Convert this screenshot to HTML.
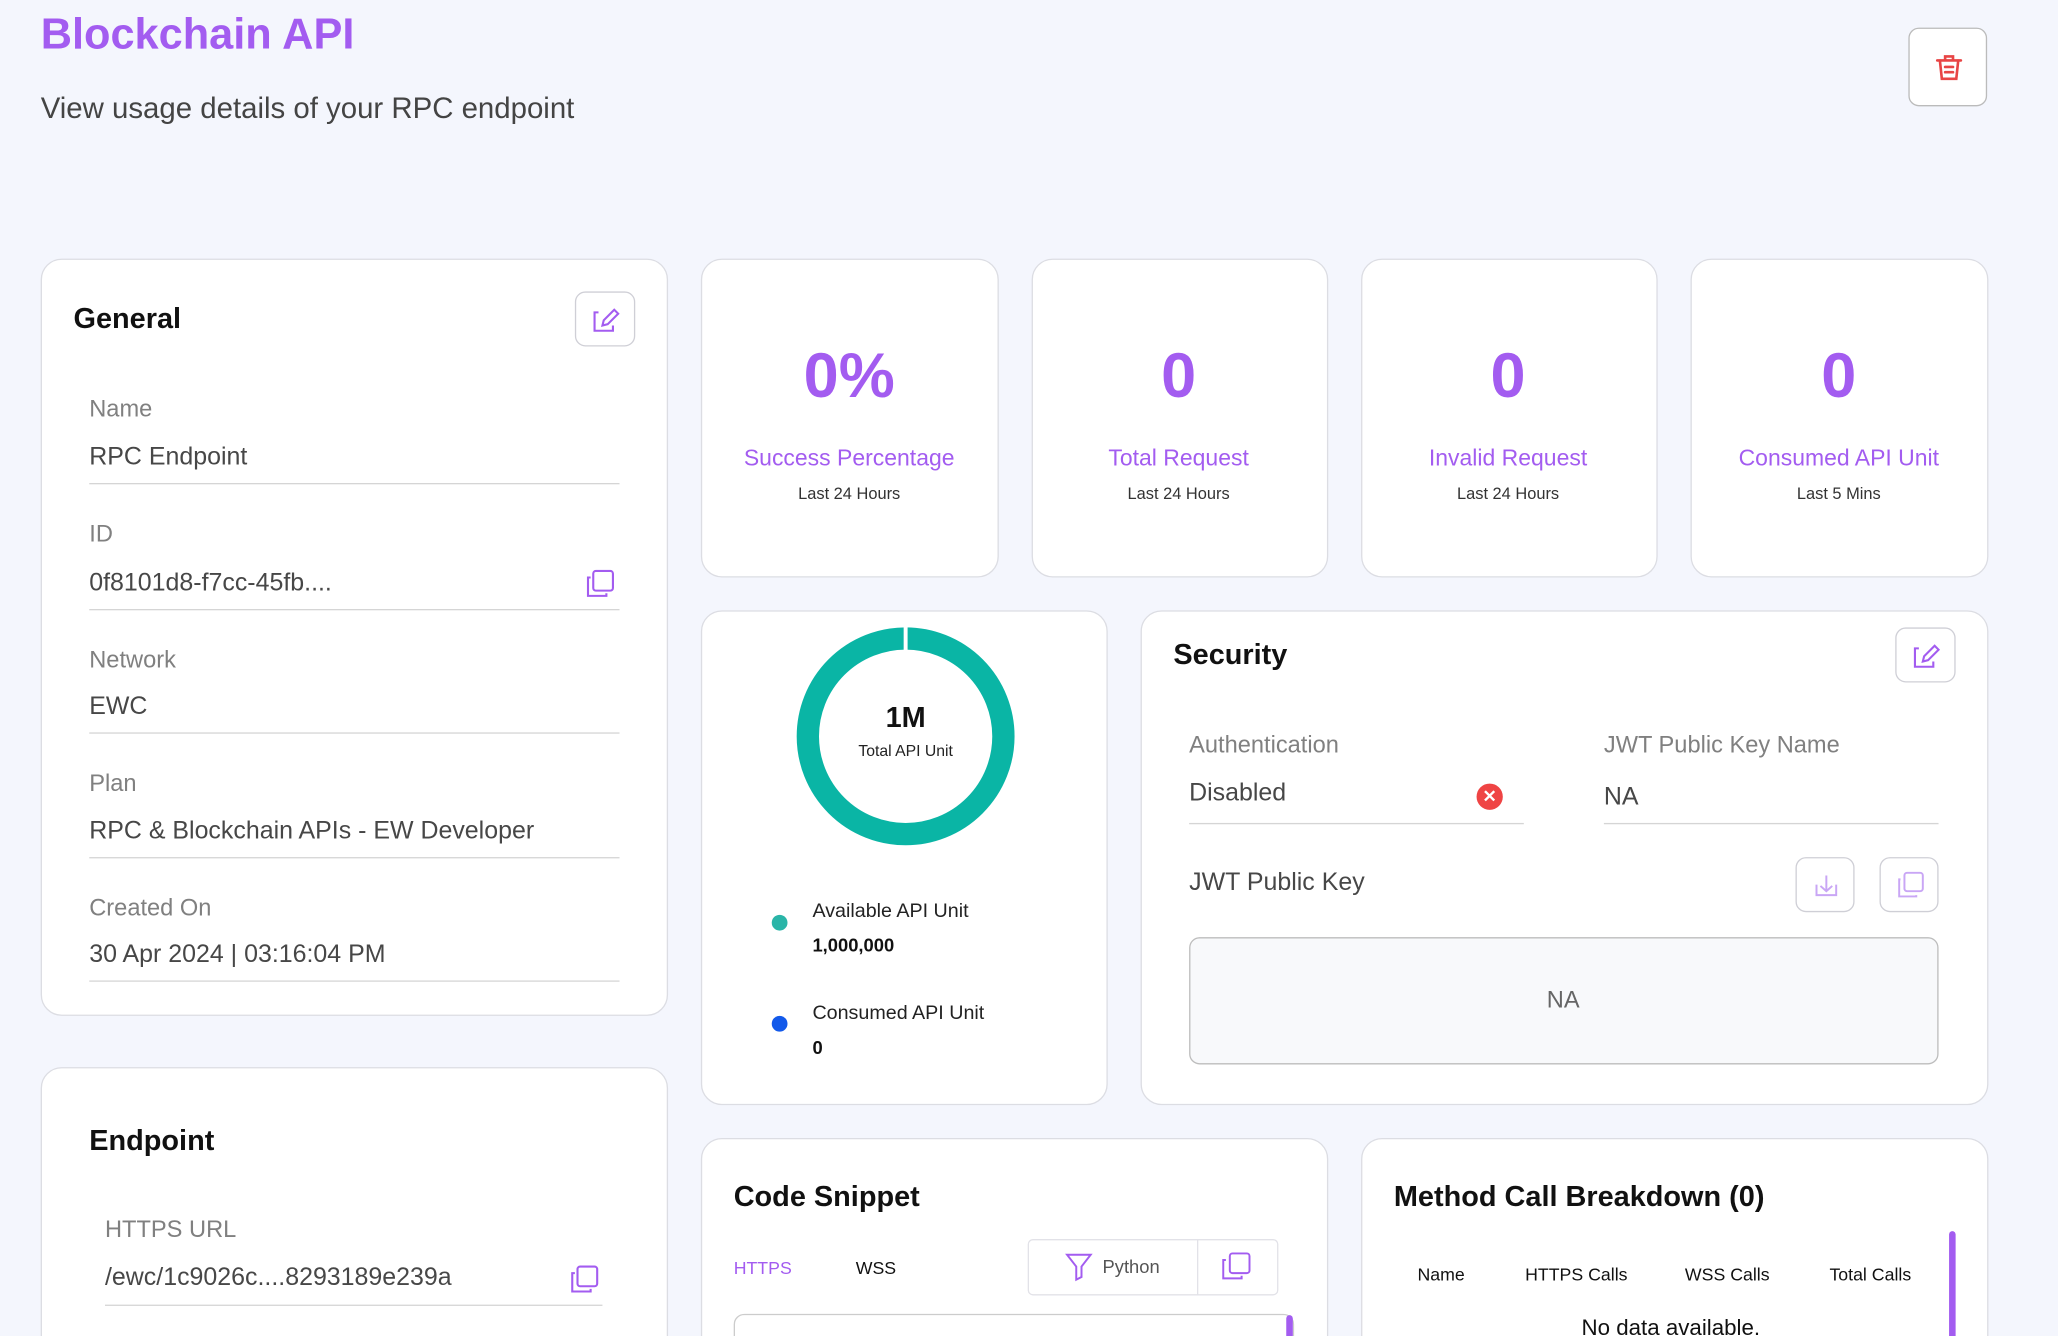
<!DOCTYPE html>
<html><head><meta charset="utf-8"><style>
*{margin:0;padding:0;box-sizing:border-box}
html,body{width:2058px;height:1336px;overflow:hidden;background:#f4f6fd}
#w{width:1568px;height:1018px;overflow:hidden;transform:scale(1.3125);transform-origin:0 0;position:relative;font-family:"Liberation Sans",Arial,sans-serif;color:#333}
.a{position:absolute}
.card{position:absolute;background:#fff;border:1px solid #dcdde3;border-radius:16px}
.t{position:absolute;white-space:nowrap;transform:translateY(-50%)}
.c{transform:translate(-50%,-50%)}
.lbl{font-size:18px;color:#808080}
.val{font-size:19px;color:#474747}
.ln{position:absolute;height:1px;background:#d5d5d5}
.btn{position:absolute;border:1px solid #cfcfd6;border-radius:8px;background:#fff}
.h{font-weight:bold;font-size:22px;color:#111}
.num{font-size:48px;font-weight:bold;color:#a35cf0}
.pl{font-size:17.5px;color:#a35cf0}
.sub{font-size:12.5px;color:#333}
</style></head><body><div id="w">
<div class="t" style="left:31px;top:26px;font-size:33px;font-weight:bold;color:#a35cf0">Blockchain API</div>
<div class="t" style="left:31px;top:83px;font-size:22.4px;color:#444">View usage details of your RPC endpoint</div>
<div class="btn" style="left:1454px;top:21px;width:60px;height:60px;border-color:#bbb">
<svg width="60" height="60" viewBox="0 0 60 60"><g fill="none" stroke="#e84545" stroke-width="2" stroke-linecap="round"><path d="M21 24h18M27 24v-3h6v3M23 24l1.5 14h11L37 24M27 29h6M27 33h6"/></g></svg></div>

<div class="card" style="left:31px;top:197px;width:478px;height:577px"></div>
<div class="t h" style="left:56px;top:243px">General</div>
<div class="btn" style="left:438px;top:222px;width:46px;height:42px"><svg width="46" height="42"><g fill="none" stroke="#a35cf0" stroke-width="1.6"><path d="M17 15h-3v14h14v-4"/><path d="M20 25l1-4 8-8 3 3-8 8z"/></g></svg></div>
<div class="t lbl" style="left:68px;top:312px">Name</div><div class="t val" style="left:68px;top:349px">RPC Endpoint</div><div class="ln" style="left:68px;top:368px;width:404px"></div>
<div class="t lbl" style="left:68px;top:407px">ID</div><div class="t val" style="left:68px;top:445px">0f8101d8-f7cc-45fb....</div><div class="ln" style="left:68px;top:464px;width:404px"></div>
<svg class="a" style="left:446px;top:434px" width="24" height="22"><g fill="none" stroke="#a35cf0" stroke-width="1.6"><rect x="6" y="1" width="15" height="15" rx="2"/><path d="M4 6H2v14h14v-2"/></g></svg>
<div class="t lbl" style="left:68px;top:503px">Network</div><div class="t val" style="left:68px;top:539px">EWC</div><div class="ln" style="left:68px;top:558px;width:404px"></div>
<div class="t lbl" style="left:68px;top:597px">Plan</div><div class="t val" style="left:68px;top:634px">RPC &amp; Blockchain APIs - EW Developer</div><div class="ln" style="left:68px;top:653px;width:404px"></div>
<div class="t lbl" style="left:68px;top:692px">Created On</div><div class="t val" style="left:68px;top:728px">30 Apr 2024 | 03:16:04 PM</div><div class="ln" style="left:68px;top:747px;width:404px"></div>

<div class="card" style="left:31px;top:813px;width:478px;height:225px"></div>
<div class="t h" style="left:68px;top:869px">Endpoint</div>
<div class="t lbl" style="left:80px;top:937px">HTTPS URL</div><div class="t val" style="left:80px;top:974px">/ewc/1c9026c....8293189e239a</div><div class="ln" style="left:80px;top:994px;width:379px"></div>
<svg class="a" style="left:434px;top:964px" width="24" height="22"><g fill="none" stroke="#a35cf0" stroke-width="1.6"><rect x="6" y="1" width="15" height="15" rx="2"/><path d="M4 6H2v14h14v-2"/></g></svg>

<div class="card" style="left:534px;top:197px;width:227px;height:243px"></div>
<div class="card" style="left:786px;top:197px;width:226px;height:243px"></div>
<div class="card" style="left:1037px;top:197px;width:226px;height:243px"></div>
<div class="card" style="left:1288px;top:197px;width:227px;height:243px"></div>
<div class="t c num" style="left:647px;top:287px">0%</div><div class="t c pl" style="left:647px;top:349px">Success Percentage</div><div class="t c sub" style="left:647px;top:376px">Last 24 Hours</div>
<div class="t c num" style="left:898px;top:287px">0</div><div class="t c pl" style="left:898px;top:349px">Total Request</div><div class="t c sub" style="left:898px;top:376px">Last 24 Hours</div>
<div class="t c num" style="left:1149px;top:287px">0</div><div class="t c pl" style="left:1149px;top:349px">Invalid Request</div><div class="t c sub" style="left:1149px;top:376px">Last 24 Hours</div>
<div class="t c num" style="left:1401px;top:287px">0</div><div class="t c pl" style="left:1401px;top:349px">Consumed API Unit</div><div class="t c sub" style="left:1401px;top:376px">Last 5 Mins</div>

<div class="card" style="left:534px;top:465px;width:310px;height:377px"></div>
<svg class="a" style="left:600px;top:471px" width="180" height="180"><circle cx="90" cy="90" r="74.5" fill="none" stroke="#0ab5a5" stroke-width="17"/><rect x="88.5" y="5" width="3" height="20" fill="#fff"/></svg>
<div class="t c" style="left:690px;top:547px;font-size:22px;font-weight:bold;color:#111">1M</div>
<div class="t c" style="left:690px;top:572px;font-size:12px;color:#222">Total API Unit</div>
<div class="a" style="left:588px;top:697px;width:12px;height:12px;border-radius:50%;background:#2ab5a8"></div>
<div class="t" style="left:619px;top:694px;font-size:15px;color:#222">Available API Unit</div>
<div class="t" style="left:619px;top:720px;font-size:14px;font-weight:bold;color:#111">1,000,000</div>
<div class="a" style="left:588px;top:774px;width:12px;height:12px;border-radius:50%;background:#1259ea"></div>
<div class="t" style="left:619px;top:772px;font-size:15px;color:#222">Consumed API Unit</div>
<div class="t" style="left:619px;top:798px;font-size:14px;font-weight:bold;color:#111">0</div>

<div class="card" style="left:869px;top:465px;width:646px;height:377px"></div>
<div class="t h" style="left:894px;top:499px">Security</div>
<div class="btn" style="left:1444px;top:478px;width:46px;height:42px"><svg width="46" height="42"><g fill="none" stroke="#a35cf0" stroke-width="1.6"><path d="M17 15h-3v14h14v-4"/><path d="M20 25l1-4 8-8 3 3-8 8z"/></g></svg></div>
<div class="t lbl" style="left:906px;top:568px">Authentication</div><div class="t val" style="left:906px;top:605px">Disabled</div><div class="ln" style="left:906px;top:627px;width:255px"></div>
<div class="a" style="left:1125px;top:597px;width:20px;height:20px;border-radius:50%;background:#ef4444;color:#fff;font-size:13px;text-align:center;line-height:20px;font-weight:bold">✕</div>
<div class="t lbl" style="left:1222px;top:568px">JWT Public Key Name</div><div class="t val" style="left:1222px;top:608px">NA</div><div class="ln" style="left:1222px;top:627px;width:255px"></div>
<div class="t val" style="left:906px;top:673px">JWT Public Key</div>
<div class="btn" style="left:1368px;top:653px;width:45px;height:42px"><svg width="45" height="42"><g fill="none" stroke="#c9a6f5" stroke-width="1.5"><path d="M15 20v8h15v-8M22.5 13v12M18 21l4.5 4 4.5-4"/></g></svg></div>
<div class="btn" style="left:1432px;top:653px;width:45px;height:42px"><svg width="45" height="42"><g fill="none" stroke="#c9a6f5" stroke-width="1.5"><rect x="18" y="11" width="14" height="14" rx="2"/><path d="M15 16h-1v13h13v-1"/></g></svg></div>
<div class="a" style="left:906px;top:714px;width:571px;height:97px;background:#f8f9fb;border:1px solid #bdbdbd;border-radius:8px"></div>
<div class="t c" style="left:1191px;top:762px;font-size:18px;color:#666">NA</div>

<div class="card" style="left:534px;top:867px;width:478px;height:171px"></div>
<div class="t h" style="left:559px;top:912px">Code Snippet</div>
<div class="t" style="left:559px;top:966px;font-size:13.5px;color:#a35cf0">HTTPS</div>
<div class="t" style="left:652px;top:966px;font-size:13.5px;color:#111">WSS</div>
<div class="a" style="left:783px;top:944px;width:191px;height:43px;border:1px solid #e2e2e8;border-radius:4px"></div>
<div class="a" style="left:912px;top:944px;width:1px;height:43px;background:#e2e2e8"></div>
<svg class="a" style="left:810px;top:953px" width="24" height="24"><path d="M3 3h18l-7 9v8l-4 2V12z" fill="none" stroke="#a35cf0" stroke-width="1.5"/></svg>
<div class="t" style="left:840px;top:965px;font-size:14px;color:#555">Python</div>
<svg class="a" style="left:930px;top:953px" width="24" height="24"><g fill="none" stroke="#a35cf0" stroke-width="1.5"><rect x="7" y="2" width="15" height="15" rx="2"/><path d="M4 7H2v14h14v-2"/></g></svg>
<div class="a" style="left:559px;top:1001px;width:427px;height:30px;border:1px solid #ccc;border-radius:8px"></div>
<div class="a" style="left:980px;top:1002px;width:5px;height:20px;background:#a35cf0;border-radius:3px"></div>

<div class="card" style="left:1037px;top:867px;width:478px;height:171px"></div>
<div class="t h" style="left:1062px;top:912px">Method Call Breakdown (0)</div>
<div class="t c" style="left:1098px;top:971px;font-size:13.5px;color:#111">Name</div>
<div class="t c" style="left:1201px;top:971px;font-size:13.5px;color:#111">HTTPS Calls</div>
<div class="t c" style="left:1316px;top:971px;font-size:13.5px;color:#111">WSS Calls</div>
<div class="t c" style="left:1425px;top:971px;font-size:13.5px;color:#111">Total Calls</div>
<div class="t c" style="left:1273px;top:1012px;font-size:17px;color:#111">No data available.</div>
<div class="a" style="left:1485px;top:938px;width:5px;height:85px;background:#a35cf0;border-radius:3px"></div>
</div></body></html>
